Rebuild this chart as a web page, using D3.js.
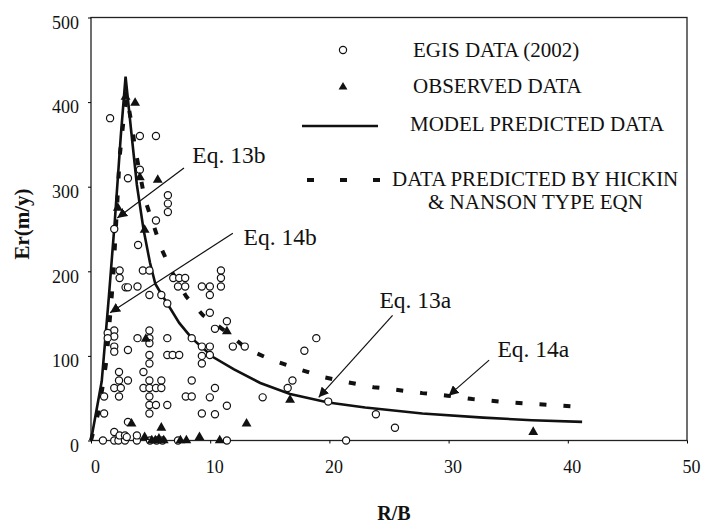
<!DOCTYPE html>
<html>
<head>
<meta charset="utf-8">
<script src="https://cdn.jsdelivr.net/npm/d3@7"></script>
<style>
  body { margin: 0; background: #fff; }
  text { font-family: "Liberation Serif", "Times New Roman", serif; fill: #111; }
</style>
</head>
<body>
<div id="chart"></div>
<script>
// EGIS data (2002) - open circles, [R/B, Er]
const egisPoints = [
    [1.6, 381], [4.1, 360], [5.45, 360], [4.1, 320], [3.1, 310], [6.45, 290], [6.45, 280], [6.45, 270],
    [5.45, 260], [1.95, 250], [3.95, 231],
    [2.4, 201], [2.4, 192], [4.35, 201], [4.9, 201], [2.9, 181], [3.1, 181], [3.9, 182], [4.9, 172],
    [5.9, 172], [6.4, 162], [6.9, 192], [7.4, 192], [7.9, 192], [7.3, 182], [7.9, 182], [9.3, 182],
    [1.95, 130], [1.95, 123], [1.4, 127], [1.4, 121], [1.95, 111], [1.95, 105], [3.1, 107], [3.9, 121],
    [4.9, 130], [4.9, 121], [4.9, 115], [6.4, 121], [8.45, 121], [9.3, 111], [9.3, 100], [9.3, 91],
    [4.9, 101], [4.9, 91], [6.4, 101], [6.85, 101], [7.4, 101], [4.4, 81], [2.35, 81], [2.35, 71],
    [3.1, 71], [1.95, 62], [2.5, 62], [2.35, 52], [1.1, 52], [4.9, 71], [5.9, 71], [4.4, 62], [4.9, 62],
    [5.45, 62], [5.9, 62], [4.9, 52], [4.9, 42], [4.9, 32], [5.45, 42], [6.4, 42], [7.95, 52], [8.45, 52],
    [8.45, 71], [1.1, 32], [9.3, 32], [1.95, 10], [3.1, 22],
    [10.9, 201], [10.9, 192], [10.9, 182], [9.97, 182], [9.97, 172], [9.97, 151], [11.4, 141], [10.4, 132],
    [9.97, 111], [9.97, 101], [11.9, 111], [12.9, 111], [18.9, 121], [17.9, 106], [16.9, 71], [16.5, 62],
    [14.4, 51], [10.4, 62], [9.97, 51], [11.4, 41], [10.4, 31], [19.9, 46], [11.4, 0],
    [23.9, 31], [25.5, 15], [21.4, 0],
    [1.0, 0], [1.95, 0], [2.3, 0], [2.85, 0], [3.85, 0], [4.95, 0], [5.5, 0], [6.0, 0], [7.3, 0],
    [2.4, 6], [2.85, 6], [3.85, 6], [3.0, 4]
];

// Observed data - filled triangles
const observedPoints = [
    [2.9, 406], [3.7, 399], [4.1, 311], [5.6, 308], [2.25, 275], [4.5, 249], [4.6, 120], [11.4, 129],
    [3.4, 20], [5.9, 15], [4.5, 4], [5.1, 0], [5.4, 0], [5.7, 2], [6.1, 0], [7.5, 0], [8.0, 0],
    [9.1, 4], [10.8, 0], [13.05, 20], [16.7, 48], [37.1, 10]
];

// Model predicted curve (solid)
const modelCurve = [
    [0, 0], [0.9, 70], [1.5, 170], [2.0, 260], [2.5, 360], [2.9, 430], [3.4, 362], [3.85, 302],
    [4.4, 250], [4.95, 210], [5.4, 185], [5.95, 172], [6.4, 162], [7.4, 139], [8.45, 121], [10.2, 99],
    [12, 84], [14.2, 68], [16.7, 55], [19.9, 45], [23, 39], [27.8, 32], [32.9, 27], [37, 24], [41.2, 22]
];

// Hickin & Nanson type equation (dashed)
const hickinCurve = [
    [0, 0], [0.6, 32], [1.0, 66], [1.3, 95], [1.85, 190], [2.2, 280], [2.4, 335], [2.7, 375], [3.0, 406],
    [3.4, 375], [3.7, 345], [4.5, 286], [5.9, 227], [6.8, 199], [8.0, 170], [9.4, 148], [11.4, 128],
    [13.1, 108], [15.2, 95], [17.3, 85], [19.5, 75], [21.5, 69], [23.7, 63], [25.6, 60], [27.8, 56],
    [29.9, 53], [32, 49], [34.3, 46], [36.2, 44], [38.5, 42], [40.7, 40]
];

const xTicks = [0, 10, 20, 30, 40, 50];
const yTicks = [0, 100, 200, 300, 400, 500];

// Equation callouts: label, text position [x, y], arrow start and tip in data units
const callouts = [
    { label: "Eq. 13b", text: [8.5, 328], from: [7.8, 322], to: [2.2, 263] },
    { label: "Eq. 14b", text: [12.8, 231], from: [11.9, 245], to: [1.6, 151] },
    { label: "Eq. 13a", text: [24.2, 157], from: [25.3, 148], to: [19.1, 51] },
    { label: "Eq. 14a", text: [34.1, 99], from: [33.4, 95], to: [30.0, 53] }
];

document.addEventListener("DOMContentLoaded", function () {
    const width = 705, height = 525;
    const margin = { top: 17.5, right: 18, bottom: 84.5, left: 91 };

    const svg = d3.select("#chart")
        .append("svg")
        .attr("width", width)
        .attr("height", height);

    const x = d3.scaleLinear().domain([0, 50]).range([margin.left, width - margin.right]);
    const y = d3.scaleLinear().domain([0, 500]).range([height - margin.bottom, margin.top]);

    svg.append("defs").append("marker")
        .attr("id", "head")
        .attr("viewBox", "0 0 10 10")
        .attr("refX", 10).attr("refY", 5)
        .attr("markerWidth", 10).attr("markerHeight", 10)
        .attr("markerUnits", "userSpaceOnUse")
        .attr("orient", "auto")
        .append("path")
        .attr("d", "M0,0 L10,5 L0,10 Z")
        .attr("fill", "#111");

    // Plot border
    svg.append("rect")
        .attr("x", x(0)).attr("y", y(500))
        .attr("width", x(50) - x(0)).attr("height", y(0) - y(500))
        .attr("fill", "none").attr("stroke", "#222").attr("stroke-width", 1.3);

    // X axis
    const gx = svg.append("g")
        .attr("transform", `translate(0,${y(0)})`)
        .call(d3.axisBottom(x).tickValues(xTicks).tickSize(3).tickPadding(17));
    gx.select(".domain").remove();
    gx.selectAll("text").attr("font-size", 18).attr("dx", 4);

    // Y axis
    const gy = svg.append("g")
        .attr("transform", `translate(${x(0)},0)`)
        .call(d3.axisLeft(y).tickValues(yTicks).tickSize(3).tickPadding(9));
    gy.select(".domain").remove();
    gy.selectAll("text").attr("font-size", 18).attr("dy", "0.6em");

    // Axis titles
    svg.append("text")
        .attr("x", 394).attr("y", 520)
        .attr("text-anchor", "middle")
        .attr("font-size", 20).attr("font-weight", "bold")
        .text("R/B");

    svg.append("text")
        .attr("transform", "translate(29,224) rotate(-90)")
        .attr("text-anchor", "middle")
        .attr("font-size", 21).attr("font-weight", "bold")
        .text("Er(m/y)");

    const line = d3.line().x(d => x(d[0])).y(d => y(d[1]));

    // Hickin & Nanson dashed curve
    svg.append("path")
        .datum(hickinCurve)
        .attr("d", line)
        .attr("fill", "none")
        .attr("stroke", "#111")
        .attr("stroke-width", 4)
        .attr("stroke-dasharray", "7,17");

    // Model curve
    svg.append("path")
        .datum(modelCurve)
        .attr("d", line)
        .attr("fill", "none")
        .attr("stroke", "#111")
        .attr("stroke-width", 2.6);

    // EGIS circles
    svg.selectAll("circle.egis")
        .data(egisPoints)
        .enter()
        .append("circle")
        .attr("class", "egis")
        .attr("cx", d => x(d[0]))
        .attr("cy", d => y(d[1]))
        .attr("r", 3.6)
        .attr("fill", "#fff")
        .attr("stroke", "#111")
        .attr("stroke-width", 1.2);

    // Observed triangles
    const tri = d3.symbol().type(d3.symbolTriangle).size(42);
    svg.selectAll("path.obs")
        .data(observedPoints)
        .enter()
        .append("path")
        .attr("class", "obs")
        .attr("d", tri)
        .attr("transform", d => `translate(${x(d[0])},${y(d[1])})`)
        .attr("fill", "#111");

    // Callouts
    callouts.forEach(c => {
        svg.append("line")
            .attr("x1", x(c.from[0])).attr("y1", y(c.from[1]))
            .attr("x2", x(c.to[0])).attr("y2", y(c.to[1]))
            .attr("stroke", "#111").attr("stroke-width", 1.2)
            .attr("marker-end", "url(#head)");
        svg.append("text")
            .attr("x", x(c.text[0])).attr("y", y(c.text[1]))
            .attr("font-size", 23.5)
            .text(c.label);
    });

    // Legend
    const legend = svg.append("g");
    legend.append("circle")
        .attr("cx", 343).attr("cy", 50).attr("r", 3.6)
        .attr("fill", "#fff").attr("stroke", "#111").attr("stroke-width", 1.2);
    legend.append("path")
        .attr("d", d3.symbol().type(d3.symbolTriangle).size(34))
        .attr("transform", "translate(343,87)")
        .attr("fill", "#111");
    legend.append("line")
        .attr("x1", 302).attr("x2", 378).attr("y1", 126).attr("y2", 126)
        .attr("stroke", "#111").attr("stroke-width", 2.6);
    legend.append("line")
        .attr("x1", 307).attr("x2", 381).attr("y1", 180).attr("y2", 180)
        .attr("stroke", "#111").attr("stroke-width", 4)
        .attr("stroke-dasharray", "7,26");

    const legendText = [
        { t: "EGIS DATA (2002)", x: 413, y: 57 },
        { t: "OBSERVED DATA", x: 413, y: 93 },
        { t: "MODEL PREDICTED DATA", x: 410, y: 131 },
        { t: "DATA PREDICTED BY HICKIN", x: 392, y: 186 },
        { t: "& NANSON TYPE EQN", x: 428, y: 209 }
    ];
    legend.selectAll("text")
        .data(legendText)
        .enter()
        .append("text")
        .attr("x", d => d.x).attr("y", d => d.y)
        .attr("font-size", 21)
        .text(d => d.t);
});
</script>
</body>
</html>
